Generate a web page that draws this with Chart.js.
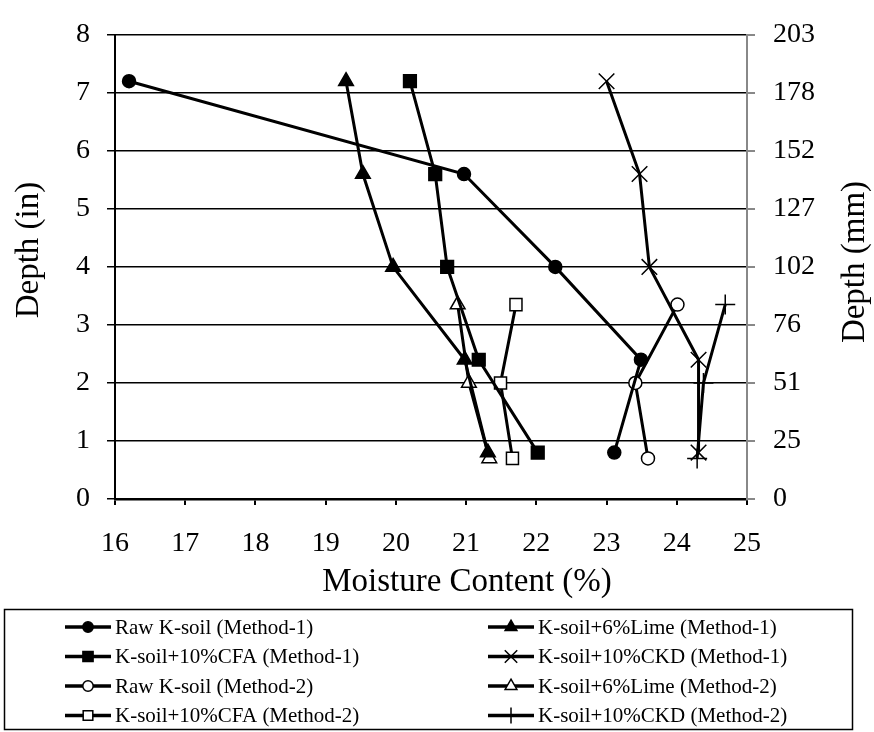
<!DOCTYPE html>
<html>
<head>
<meta charset="utf-8">
<script src="https://cdn.jsdelivr.net/npm/chart.js@4.4.1/dist/chart.umd.min.js"></script>
<style>
  html, body { margin: 0; padding: 0; background: #fff; }
  #wrap { width: 874px; height: 732px; }
</style>
</head>
<body>
<div id="wrap"><canvas id="moistureChart"></canvas></div>
<script>
// depths (in) of the readings
const depthM1 = [7.2, 5.6, 4.0, 2.4, 0.8];
const depthM2 = [3.35, 2.0, 0.7];

// moisture content (%)
const rawM1 = [16.2, 20.97, 22.27, 23.49, 23.11];
const limeM1 = [19.29, 19.53, 19.96, 20.98, 21.31];
const cfaM1 = [20.2, 20.56, 20.73, 21.18, 22.02];
const ckdM1 = [23.0, 23.47, 23.61, 24.31, 24.31];
const rawM2 = [24.01, 23.41, 23.59];
const limeM2 = [20.88, 21.04, 21.33];
const cfaM2 = [21.71, 21.49, 21.66];
const ckdM2 = [24.69, 24.38, 24.29];

const mmLabels = ['0', '25', '51', '76', '102', '127', '152', '178', '203'];

const seriesNames = [
    'Raw K-soil (Method-1)', 'K-soil+6%Lime (Method-1)',
    'K-soil+10%CFA (Method-1)', 'K-soil+10%CKD (Method-1)',
    'Raw K-soil (Method-2)', 'K-soil+6%Lime (Method-2)',
    'K-soil+10%CFA (Method-2)', 'K-soil+10%CKD (Method-2)'
];

const FONT = "'Liberation Serif', 'Times New Roman', serif";

function pts(xs, ys) {
    return xs.map((x, i) => ({ x: x, y: ys[i] }));
}

// marker look per series, same order as seriesNames
const markers = [
    { style: 'circle', r: 6.5, fill: '#000' },
    { style: 'triangle', r: 8.5, fill: '#000' },
    { style: 'rect', r: 9, fill: '#000' },
    { style: 'crossRot', r: 11, fill: '#000' },
    { style: 'circle', r: 6.5, fill: '#fff' },
    { style: 'triangle', r: 8.5, fill: '#fff' },
    { style: 'rect', r: 8.5, fill: '#fff' },
    { style: 'cross', r: 10, fill: '#000' }
];

const seriesData = [
    pts(rawM1, depthM1), pts(limeM1, depthM1), pts(cfaM1, depthM1), pts(ckdM1, depthM1),
    pts(rawM2, depthM2), pts(limeM2, depthM2), pts(cfaM2, depthM2), pts(ckdM2, depthM2)
];

const datasets = seriesNames.map((name, i) => ({
    label: name,
    data: seriesData[i],
    showLine: true,
    borderColor: '#000',
    borderWidth: 3,
    tension: 0,
    pointStyle: markers[i].style,
    pointRadius: markers[i].r,
    pointHoverRadius: markers[i].r,
    pointBackgroundColor: markers[i].fill,
    pointBorderColor: '#000',
    pointBorderWidth: 1.5
}));

// axis titles placed like the original (right one reads bottom-to-top)
const axisTitles = {
    id: 'axisTitles',
    afterDraw(chart) {
        const ctx = chart.ctx;
        ctx.save();
        ctx.fillStyle = '#000';
        ctx.font = '33px ' + FONT;
        ctx.textAlign = 'center';
        ctx.textBaseline = 'middle';
        ctx.fillText('Moisture Content (%)', 467, 582);
        ctx.translate(29, 250);
        ctx.rotate(-Math.PI / 2);
        ctx.fillText('Depth (in)', 0, 0);
        ctx.restore();
        ctx.save();
        ctx.fillStyle = '#000';
        ctx.font = '33px ' + FONT;
        ctx.textAlign = 'center';
        ctx.textBaseline = 'middle';
        ctx.translate(855, 262);
        ctx.rotate(-Math.PI / 2);
        ctx.fillText('Depth (mm)', 0, 0);
        ctx.restore();
    }
};

// legend box drawn under the axes
const boxLegend = {
    id: 'boxLegend',
    afterDraw(chart) {
        const ctx = chart.ctx;
        ctx.save();
        ctx.strokeStyle = '#000';
        ctx.lineWidth = 1.5;
        ctx.strokeRect(4.5, 609.5, 848, 120);
        ctx.font = '21px ' + FONT;
        ctx.textBaseline = 'middle';
        ctx.fillStyle = '#000';
        seriesNames.forEach((name, i) => {
            const col = i % 2, row = Math.floor(i / 2);
            const x0 = col === 0 ? 65 : 488;
            const y = 627 + row * 29.5;
            ctx.strokeStyle = '#000';
            ctx.lineWidth = 3.5;
            ctx.beginPath();
            ctx.moveTo(x0, y);
            ctx.lineTo(x0 + 46, y);
            ctx.stroke();
            ctx.lineWidth = 1.5;
            ctx.fillStyle = markers[i].fill;
            Chart.helpers.drawPoint(ctx, {
                pointStyle: markers[i].style,
                radius: markers[i].r * 0.8,
                rotation: 0,
                borderWidth: 1.5
            }, x0 + 23, y);
            ctx.fillStyle = '#000';
            ctx.fillText(name, x0 + 50, y + 1);
        });
        ctx.restore();
    }
};

new Chart(document.getElementById('moistureChart'), {
    type: 'scatter',
    data: { datasets: datasets },
    options: {
        responsive: true,
        maintainAspectRatio: false,
        animation: false,
        layout: { padding: { left: 0, right: 0, top: 19, bottom: 127 } },
        plugins: { legend: { display: false }, tooltip: { enabled: false } },
        scales: {
            x: {
                type: 'linear', min: 16, max: 25,
                afterFit(s) { s.height = 106; },
                ticks: { stepSize: 1, color: '#000', padding: 22, font: { family: FONT, size: 28 } },
                grid: { drawOnChartArea: false, color: '#000', lineWidth: 2, tickLength: 6 },
                border: { color: '#000', width: 2.5 }
            },
            y: {
                type: 'linear', position: 'left', min: 0, max: 8,
                afterFit(s) { s.width = 115; },
                ticks: { stepSize: 1, color: '#000', padding: 17, font: { family: FONT, size: 28 } },
                grid: { color: '#000', lineWidth: 1.5, tickLength: 8 },
                border: { color: '#000', width: 2 }
            },
            y2: {
                type: 'linear', position: 'right', min: 0, max: 8,
                afterFit(s) { s.width = 127; },
                ticks: { stepSize: 1, color: '#000', padding: 18, font: { family: FONT, size: 28 },
                    callback: (v) => mmLabels[v] },
                grid: { drawOnChartArea: false, color: '#888', lineWidth: 2, tickLength: 8 },
                border: { color: '#888', width: 2 }
            }
        }
    },
    plugins: [axisTitles, boxLegend]
});
</script>
</body>
</html>
